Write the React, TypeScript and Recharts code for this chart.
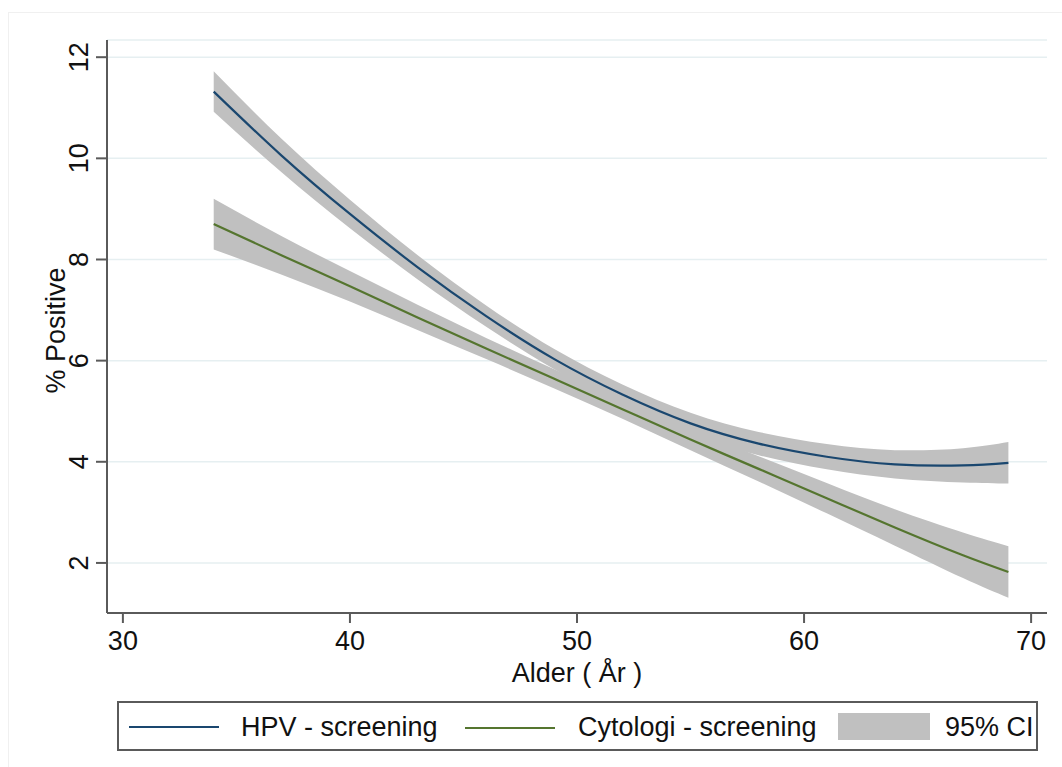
import { ComposedChart, Area, Line, XAxis, YAxis, CartesianGrid, Legend } from "recharts";

const ages = [34, 37, 40, 43, 46, 49, 52, 55, 58, 61, 64, 67, 69];

const hpvFit = [11.32, 10.05, 8.9, 7.84, 6.88, 6.03, 5.33, 4.76, 4.36, 4.1, 3.95, 3.93, 3.98];
const hpvLow = [10.92, 9.72, 8.62, 7.6, 6.67, 5.83, 5.13, 4.55, 4.13, 3.85, 3.67, 3.59, 3.57];
const hpvHigh = [11.72, 10.38, 9.18, 8.08, 7.09, 6.23, 5.53, 4.97, 4.59, 4.35, 4.23, 4.27, 4.39];

const cytFit = [8.7, 8.08, 7.47, 6.85, 6.24, 5.64, 5.04, 4.44, 3.86, 3.28, 2.7, 2.15, 1.82];
const cytLow = [8.2, 7.7, 7.17, 6.6, 6.03, 5.45, 4.85, 4.23, 3.61, 2.98, 2.34, 1.7, 1.31];
const cytHigh = [9.2, 8.46, 7.77, 7.1, 6.45, 5.83, 5.23, 4.65, 4.11, 3.58, 3.06, 2.6, 2.33];

const xTicks = [30, 40, 50, 60, 70];
const yTicks = [2, 4, 6, 8, 10, 12];

const FONT = '"Liberation Sans", Arial, sans-serif';
const NAVY = "#1a476f";
const GREEN = "#55752f";
const CI = "#c0c0c0";
const AXIS = "#5a5a5a";

const data = ages.map((age, i) => ({
  age,
  hpv: hpvFit[i],
  hpvCi: [hpvLow[i], hpvHigh[i]],
  cyt: cytFit[i],
  cytCi: [cytLow[i], cytHigh[i]],
}));

const XTick = ({ x, y, payload }: any) => (
  <text x={x} y={y + 27} textAnchor="middle" fontSize={27} fontFamily={FONT} fill="#111">
    {payload.value}
  </text>
);

const YTick = ({ x, y, payload }: any) => {
  const bx = x - 8;
  return (
    <text x={bx} y={y} transform={`rotate(-90, ${bx}, ${y})`} textAnchor="middle" fontSize={27} fontFamily={FONT} fill="#111">
      {payload.value}
    </text>
  );
};

function LegendBox() {
  const txt = { position: "absolute" as const, top: 8, fontSize: 27, lineHeight: "32px", color: "#111", whiteSpace: "nowrap" as const };
  return (
    <div style={{ position: "relative", width: 921, height: 50, boxSizing: "border-box", border: `2px solid ${AXIS}`, background: "#fff", fontFamily: FONT }}>
      <div style={{ position: "absolute", left: 10, top: 23, width: 90, height: 2, background: NAVY }} />
      <span style={{ ...txt, left: 122 }}>HPV - screening</span>
      <div style={{ position: "absolute", left: 346, top: 24, width: 90, height: 2, background: GREEN }} />
      <span style={{ ...txt, left: 459 }}>Cytologi - screening</span>
      <div style={{ position: "absolute", left: 719, top: 10, width: 92, height: 27, background: CI }} />
      <span style={{ ...txt, left: 826 }}>95% CI</span>
    </div>
  );
}

export default function App() {
  return (
    <div style={{ position: "absolute", left: 0, top: 0, width: 1062, height: 767, background: "#fff" }}>
      <div style={{ position: "absolute", left: 8, top: 12, right: 0, bottom: 0, borderLeft: "1px solid #f0f0f0", borderTop: "1px solid #f0f0f0" }} />
      <ComposedChart width={1062} height={767} data={data} margin={{ top: 40, right: 15, bottom: 74, left: 0 }}>
        <CartesianGrid horizontal vertical={false} stroke="#e6eff1" strokeWidth={1.5} />
        <XAxis
          type="number"
          dataKey="age"
          domain={[29.3, 70.7]}
          ticks={xTicks}
          height={80}
          tickSize={10}
          tickMargin={0}
          axisLine={{ stroke: AXIS, strokeWidth: 2 }}
          tickLine={{ stroke: AXIS, strokeWidth: 2 }}
          tick={<XTick />}
          label={{
            content: ({ viewBox }: any) => (
              <text x={viewBox.x + viewBox.width / 2} y={viewBox.y + 69} textAnchor="middle" fontSize={27} fontFamily={FONT} fill="#111">
                Alder ( År )
              </text>
            ),
          }}
        />
        <YAxis
          type="number"
          domain={[1.01, 12.34]}
          ticks={yTicks}
          width={107}
          tickSize={11}
          tickMargin={0}
          axisLine={{ stroke: AXIS, strokeWidth: 2 }}
          tickLine={{ stroke: AXIS, strokeWidth: 2 }}
          tick={<YTick />}
          label={{
            content: ({ viewBox }: any) => {
              const lx = viewBox.x + 65;
              const ly = viewBox.y + viewBox.height / 2 + 4;
              return (
                <text x={lx} y={ly} transform={`rotate(-90, ${lx}, ${ly})`} textAnchor="middle" fontSize={27} fontFamily={FONT} fill="#111">
                  % Positive
                </text>
              );
            },
          }}
        />
        <Area dataKey="hpvCi" type="natural" stroke="none" fill={CI} fillOpacity={1} isAnimationActive={false} />
        <Area dataKey="cytCi" type="natural" stroke="none" fill={CI} fillOpacity={1} isAnimationActive={false} />
        <Line dataKey="hpv" type="natural" stroke={NAVY} strokeWidth={2.2} dot={false} isAnimationActive={false} />
        <Line dataKey="cyt" type="natural" stroke={GREEN} strokeWidth={2.2} dot={false} isAnimationActive={false} />
        <Legend
          layout="vertical"
          align="center"
          verticalAlign="middle"
          content={() => <LegendBox />}
          wrapperStyle={{ left: 117, top: 701, width: 921, height: 50 }}
        />
      </ComposedChart>
    </div>
  );
}
